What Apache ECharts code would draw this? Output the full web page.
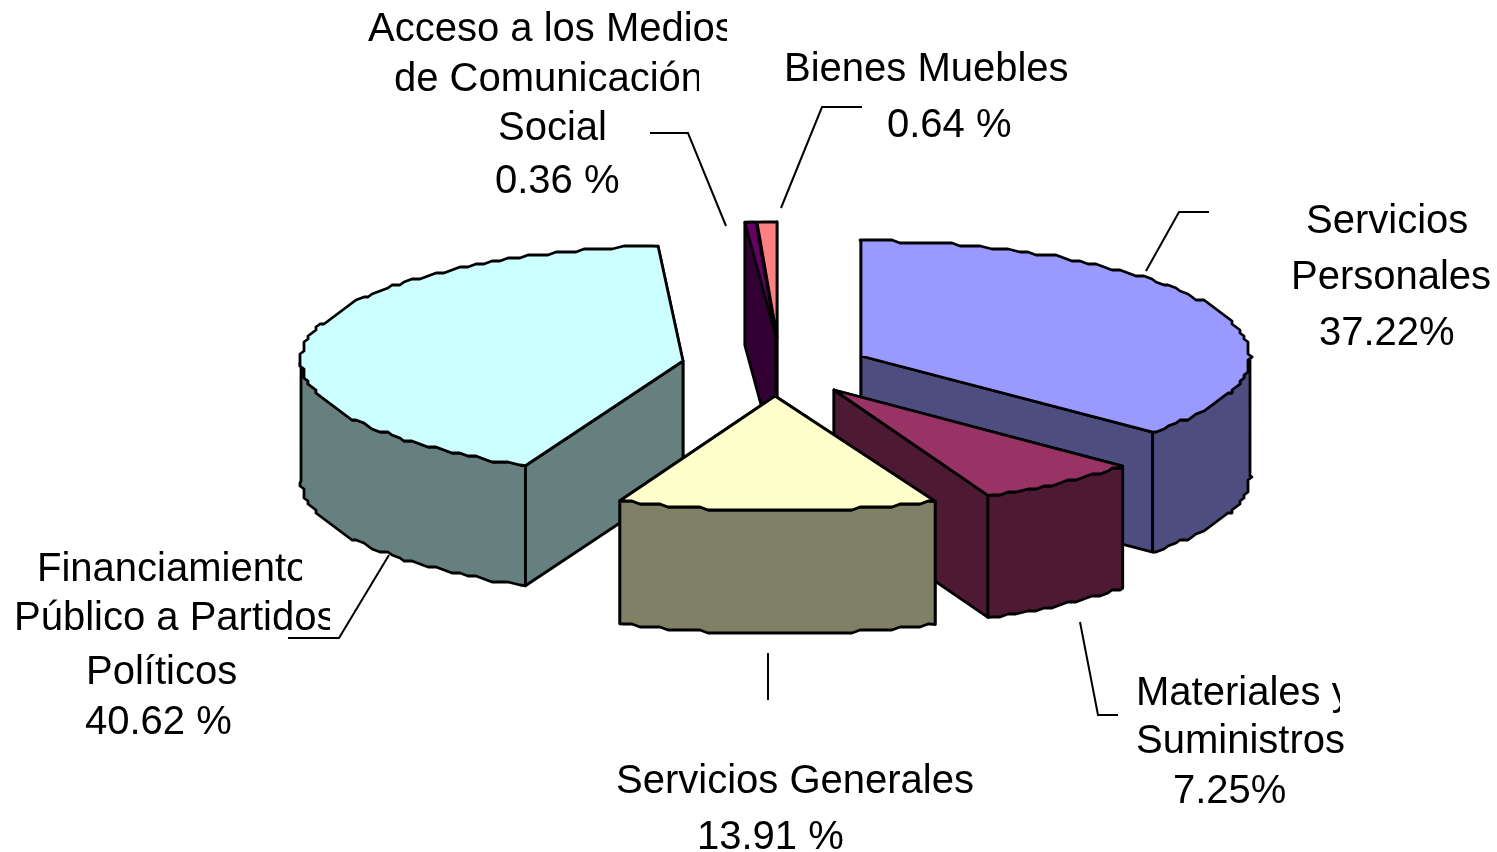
<!DOCTYPE html>
<html>
<head>
<meta charset="utf-8">
<script src="https://cdn.jsdelivr.net/npm/echarts@6/dist/echarts.min.js"></script>
<style>
  html, body { margin: 0; background: #fff; }
  #chart { width: 1497px; height: 852px; }
</style>
</head>
<body>
<div id="chart"></div>
<script>
// datos
var categories = ["Servicios Personales", "Materiales y Suministros", "Servicios Generales",
  "Financiamiento Público a Partidos Políticos", "Acceso a los Medios de Comunicación Social", "Bienes Muebles"];
var values = [37.22, 7.25, 13.91, 40.62, 0.36, 0.64];

// colores
var topColors = ["#9999ff", "#993366", "#ffffcc", "#ccffff", "#660066", "#ff8080"];
var sideColors = ["#4d4d80", "#4d1933", "#808066", "#668080", "#330033", "#804040"];

// pie falso 3d: vertice de cada rebanada, radios y profundidad
var apexes = [[861, 356], [834, 390], [775, 396], [683, 361], [776, 337], [777, 337]];
var arcShiftX = [0, 0, 5, 0, 0, 0];
var radiusX = [389, 385, 388, 382, 478, 480];
var radiusY = 115;
var depths = [120, 122, 123, 120, 123, 123];
var drawOrder = [1, 5, 6, 2, 4, 3];

// textos: [texto, x, linea base, corte derecho]
var labelLines = [
  ["Acceso a los Medios", 368, 41, 727],
  ["de Comunicación", 394, 91, 699],
  ["Social", 498, 140],
  ["0.36 %", 495, 193],
  ["Bienes Muebles", 784, 81],
  ["0.64 %", 887, 137],
  ["Servicios", 1306, 233],
  ["Personales", 1291, 289],
  ["37.22%", 1319, 345],
  ["Materiales y", 1136, 705, 1340],
  ["Suministros", 1136, 753, 1344],
  ["7.25%", 1173, 803],
  ["Servicios Generales", 616, 793],
  ["13.91 %", 697, 849],
  ["Financiamiento", 37, 581, 302],
  ["Público a Partidos", 14, 630, 330],
  ["Políticos", 86, 684],
  ["40.62 %", 85, 734]
];

var leaderLines = [
  [[650, 133], [688, 133], [726, 226]],
  [[862, 107], [822, 107], [781, 208]],
  [[1209, 212], [1179, 212], [1146, 271]],
  [[1080, 622], [1098, 715], [1118, 715]],
  [[768, 653], [768, 700]],
  [[288, 638], [339, 638], [389, 555]]
];

var total = values.reduce(function (a, b) { return a + b; }, 0);

// la perspectiva del original corre un poco los angulos
function warp(deg) {
  if (deg <= 205) return deg - 6 * Math.pow(deg / 205, 2);
  return deg - 6 * (360 - deg) / 155;
}

function startDeg(i) {
  var sum = 0;
  for (var k = 0; k < i; k++) sum += values[k];
  return sum / total * 360;
}

function point(i, deg) {
  var r = deg * Math.PI / 180;
  return [apexes[i][0] + arcShiftX[i] + radiusX[i] * Math.sin(r), apexes[i][1] - radiusY * Math.cos(r)];
}

// el borde del original es una polilinea dentada
function arc(i, a0, a1) {
  var pts = [point(i, a0)];
  for (var d = Math.ceil(a0 / 1.5) * 1.5; d < a1; d += 1.5) {
    var p = point(i, d);
    pts.push([Math.round(p[0] / 4) * 4, Math.round(p[1] / 3) * 3]);
  }
  pts.push(point(i, a1));
  return pts;
}

function down(pts, h) {
  return pts.map(function (p) { return [p[0], p[1] + h]; }).reverse();
}

function poly(pts, fill, z2) {
  return {
    type: "polygon",
    z2: z2,
    shape: { points: pts },
    style: { fill: fill, stroke: "#000", lineWidth: 2.8, lineJoin: "round" }
  };
}

function renderSlice(params, api) {
  var i = params.dataIndex;
  var a0 = warp(startDeg(i));
  var a1 = warp(startDeg(i) + api.value(0) / total * 360);
  var A = apexes[i], h = depths[i], z = drawOrder[i] * 10;
  var side = sideColors[i];
  var edge = arc(i, a0, a1);
  var S = edge[0], E = edge[edge.length - 1];
  var startCut = poly([A, S, [S[0], S[1] + h], [A[0], A[1] + h]], side, z);
  var endCut = poly([A, E, [E[0], E[1] + h], [A[0], A[1] + h]], side, z);
  // primero la cara de atras
  var kids = a0 > 180 ? [endCut, startCut] : [startCut, endCut];
  var r0 = Math.max(a0, 90), r1 = Math.min(a1, 270);
  if (r1 > r0) {
    var rim = arc(i, r0, r1);
    kids.push(poly(rim.concat(down(rim, h)), side, z + 1));
  }
  kids.push(poly([A].concat(edge), topColors[i], z + 2));
  return { type: "group", children: kids };
}

function renderLabel(params, api) {
  var line = labelLines[params.dataIndex];
  var el = {
    type: "text",
    z2: 100,
    x: line[1],
    y: line[2] + 9,
    style: {
      text: line[0],
      fill: "#000",
      font: '40px "Liberation Sans", Arial, sans-serif',
      verticalAlign: "bottom"
    }
  };
  if (line[3]) {
    el.clipPath = { type: "rect", shape: { x: 0, y: -60, width: line[3] - line[1], height: 90 } };
  }
  return el;
}

var chart = echarts.init(document.getElementById("chart"), null, { renderer: "canvas" });
chart.setOption({
  animation: false,
  backgroundColor: "#fff",
  series: [
    {
      type: "custom",
      coordinateSystem: "none",
      silent: true,
      data: values.map(function (v, i) { return { name: categories[i], value: [v] }; }),
      renderItem: renderSlice
    },
    {
      type: "custom",
      coordinateSystem: "none",
      silent: true,
      z: 3,
      data: labelLines.map(function (l) { return [l[1]]; }),
      renderItem: renderLabel
    }
  ],
  graphic: leaderLines.map(function (pts) {
    return {
      type: "polyline",
      z: 4,
      shape: { points: pts },
      style: { stroke: "#000", lineWidth: 2, fill: null }
    };
  })
});
</script>
</body>
</html>
